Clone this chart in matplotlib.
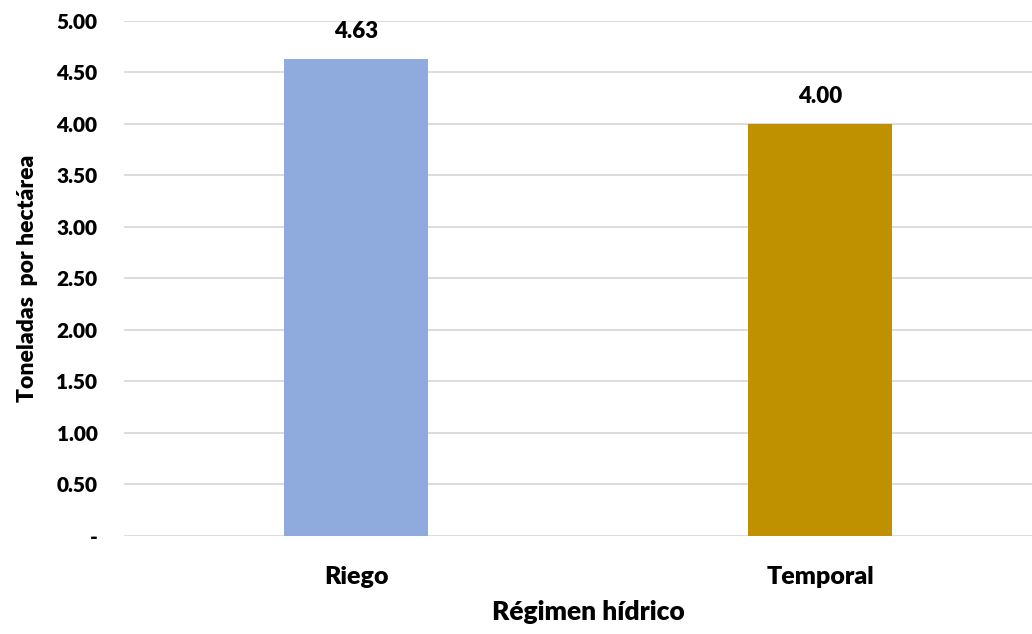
import matplotlib.pyplot as plt
import numpy as np

# Rendimiento por régimen hídrico
categorias = ['Riego', 'Temporal']
rendimiento = [4.63, 4.00]
colores = ['#8FAADC', '#BF9000']
yticks = [0, 0.5, 1.0, 1.5, 2.0, 2.5, 3.0, 3.5, 4.0, 4.5, 5.0]

plt.rcParams['font.family'] = ['Lato', 'DejaVu Sans']
plt.rcParams['font.weight'] = 'heavy'

fig = plt.figure(figsize=(10.32, 6.34), dpi=100)
ax = fig.add_axes([0.120, 0.155, 0.900, 0.812])

x = np.arange(len(categorias))
bars = ax.bar(x, rendimiento, width=0.31, color=colores, zorder=3)

for xi, v in zip(x, rendimiento):
    ax.text(xi, v + 0.2, f'{v:.2f}', ha='center', va='baseline',
            fontsize=16, fontweight='heavy', color='black')

ax.set_xlim(-0.5, 1.5)
ax.set_ylim(0, 5.0)
ax.set_yticks(yticks)
ax.set_yticklabels(['-' if t == 0 else f'{t:.2f}' for t in yticks])
ax.set_xticks(x)
ax.set_xticklabels(categorias)

ax.grid(axis='y', color='#D9D9D9', linewidth=1.3, zorder=0)
for s in ax.spines.values():
    s.set_visible(False)
ax.tick_params(axis='both', length=0)
ax.tick_params(axis='y', pad=19, labelsize=15)
ax.tick_params(axis='x', pad=22, labelsize=18)
for lbl in ax.get_xticklabels() + ax.get_yticklabels():
    lbl.set_fontweight('heavy')

ax.set_xlabel('Régimen hídrico', fontsize=19, fontweight='heavy')
ax.xaxis.set_label_coords(0.5, -0.125)
ax.set_ylabel('Toneladas  por hectárea', fontsize=16.5, fontweight='heavy')
ax.yaxis.set_label_coords(-0.092, 0.5)

plt.savefig('out.png', dpi=100)
